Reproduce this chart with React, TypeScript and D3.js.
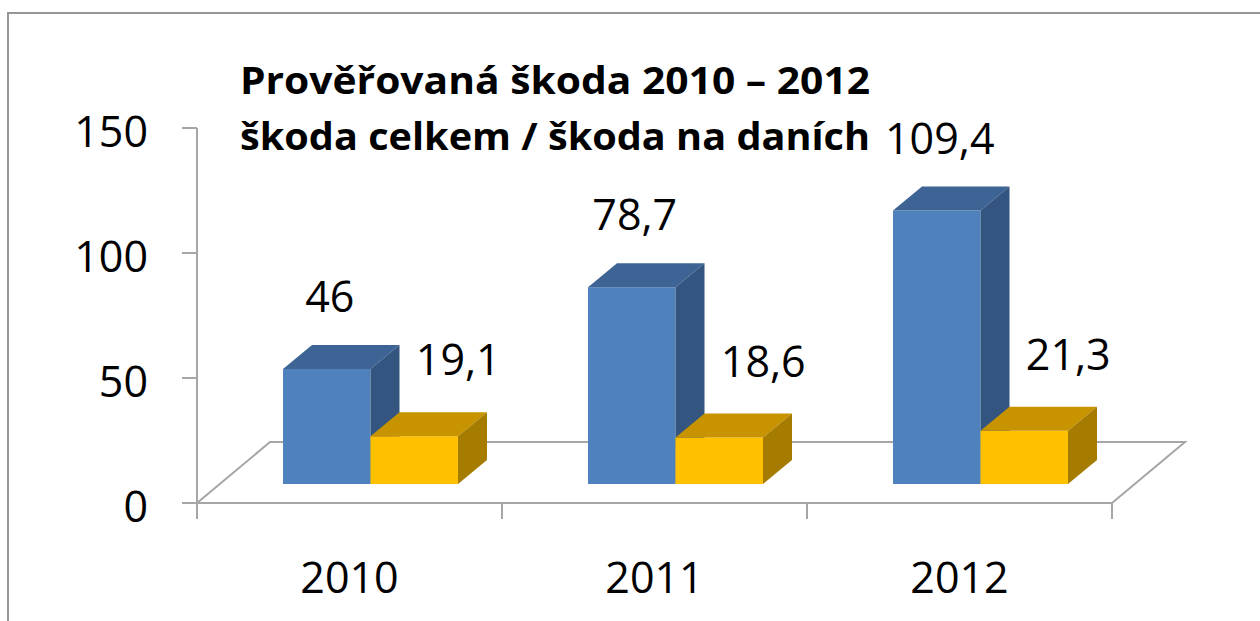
import React from 'react';
import * as d3 from 'd3';

// data
const years = ['2010', '2011', '2012'];
const seriesKeys = ['celkem', 'dane'];
const skodaCelkem = [46, 78.7, 109.4];
const skodaDane = [19.1, 18.6, 21.3];
const yTicks = [0, 50, 100, 150];
const titleLines = ['Prověřovaná škoda 2010 – 2012', 'škoda celkem / škoda na daních'];

/* look */
const W = 1260, H = 621;
const FONT = '"Open Sans", "Noto Sans", sans-serif';
const AXIS = '#a6a6a6';
const faces = {
  celkem: { front: '#4f81bd', top: '#3d6494', side: '#33557f' },
  dane: { front: '#ffc000', top: '#c79400', side: '#a67c00' },
};
const fmt = (v: number) => String(v).replace('.', ',');

export default function App() {
  /* scales */
  const y = d3.scaleLinear().domain([0, 150]).range([503, 128]);
  const x0 = d3.scaleBand<string>().domain(years).range([197, 1112]);
  const x1 = d3.scaleBand<string>().domain(seriesKeys).range([0, 175]);

  const groupPad = (x0.bandwidth() - x1.range()[1]) / 2;
  const BAR_DX = 21, BAR_DY = 19;     // bars sit mid-depth on the floor
  const DEPTH_X = 29, DEPTH_Y = 24;   // bar extrusion
  const FLOOR_X = 73, FLOOR_Y = 61;   // floor depth

  const y0 = y(0);
  const [xL, xR] = x0.range();

  const bars = years.flatMap((yr, i) =>
    seriesKeys.map(k => {
      const v = k === 'celkem' ? skodaCelkem[i] : skodaDane[i];
      const left = (x0(yr) ?? 0) + groupPad + (x1(k) ?? 0) + BAR_DX;
      const w = x1.bandwidth();
      const top = y(v) - BAR_DY;
      const bottom = y0 - BAR_DY;
      return { yr, k, v, left, w, top, bottom };
    })
  );

  const poly = (pts: number[][]) => pts.map(p => p.join(',')).join(' ');

  return (
    <svg
      width={W}
      height={H}
      style={{ position: 'absolute', left: 0, top: 0, background: '#fff', fontFamily: FONT }}
    >
      {/* chart border */}
      <rect x={8} y={13} width={W + 40} height={H + 40} fill="#fff" stroke="#969696" strokeWidth={2} />

      {/* floor */}
      <polygon
        points={poly([[xL, y0], [xR, y0], [xR + FLOOR_X, y0 - FLOOR_Y], [xL + FLOOR_X, y0 - FLOOR_Y]])}
        fill="#fff"
        stroke={AXIS}
        strokeWidth={2}
      />

      {/* value axis */}
      <line x1={xL} x2={xL} y1={y(150)} y2={y0} stroke={AXIS} strokeWidth={2} />
      {yTicks.map(t => (
        <g key={t}>
          <line x1={xL - 15} x2={xL} y1={y(t)} y2={y(t)} stroke={AXIS} strokeWidth={2} />
          <text x={148} y={y(t) + 19} textAnchor="end" fontSize={43} fill="#000">{t}</text>
        </g>
      ))}

      {/* category ticks + labels */}
      {[...years.map(yr => x0(yr) ?? 0), xR].map((tx, i) => (
        <line key={i} x1={tx} x2={tx} y1={y0} y2={y0 + 16} stroke={AXIS} strokeWidth={2} />
      ))}
      {years.map(yr => (
        <text
          key={yr}
          x={(x0(yr) ?? 0) + x0.bandwidth() / 2}
          y={y0 + 90}
          textAnchor="middle"
          fontSize={43}
          fill="#000"
        >
          {yr}
        </text>
      ))}

      {/* 3d columns */}
      {bars.map(b => {
        const c = faces[b.k as keyof typeof faces];
        const r = b.left + b.w;
        return (
          <g key={b.yr + b.k}>
            <rect x={b.left} y={b.top} width={b.w} height={b.bottom - b.top} fill={c.front} />
            <polygon
              points={poly([[b.left, b.top], [r, b.top], [r + DEPTH_X, b.top - DEPTH_Y], [b.left + DEPTH_X, b.top - DEPTH_Y]])}
              fill={c.top}
            />
            <polygon
              points={poly([[r, b.top], [r + DEPTH_X, b.top - DEPTH_Y], [r + DEPTH_X, b.bottom - DEPTH_Y], [r, b.bottom]])}
              fill={c.side}
            />
          </g>
        );
      })}

      {/* data labels */}
      {bars.map(b => (
        <text
          key={'l' + b.yr + b.k}
          x={b.left + b.w / 2 + (b.k === 'celkem' ? 3 : 44)}
          y={b.top - (b.k === 'celkem' ? 57 : 61)}
          textAnchor="middle"
          fontSize={43}
          fill="#000"
        >
          {fmt(b.v)}
        </text>
      ))}

      {/* title */}
      {titleLines.map((t, i) => (
        <text
          key={t}
          x={240}
          y={94 + i * 56}
          fontSize={37}
          fontWeight={700}
          fill="#000"
          textLength={630}
          lengthAdjust="spacingAndGlyphs"
        >
          {t}
        </text>
      ))}
    </svg>
  );
}
